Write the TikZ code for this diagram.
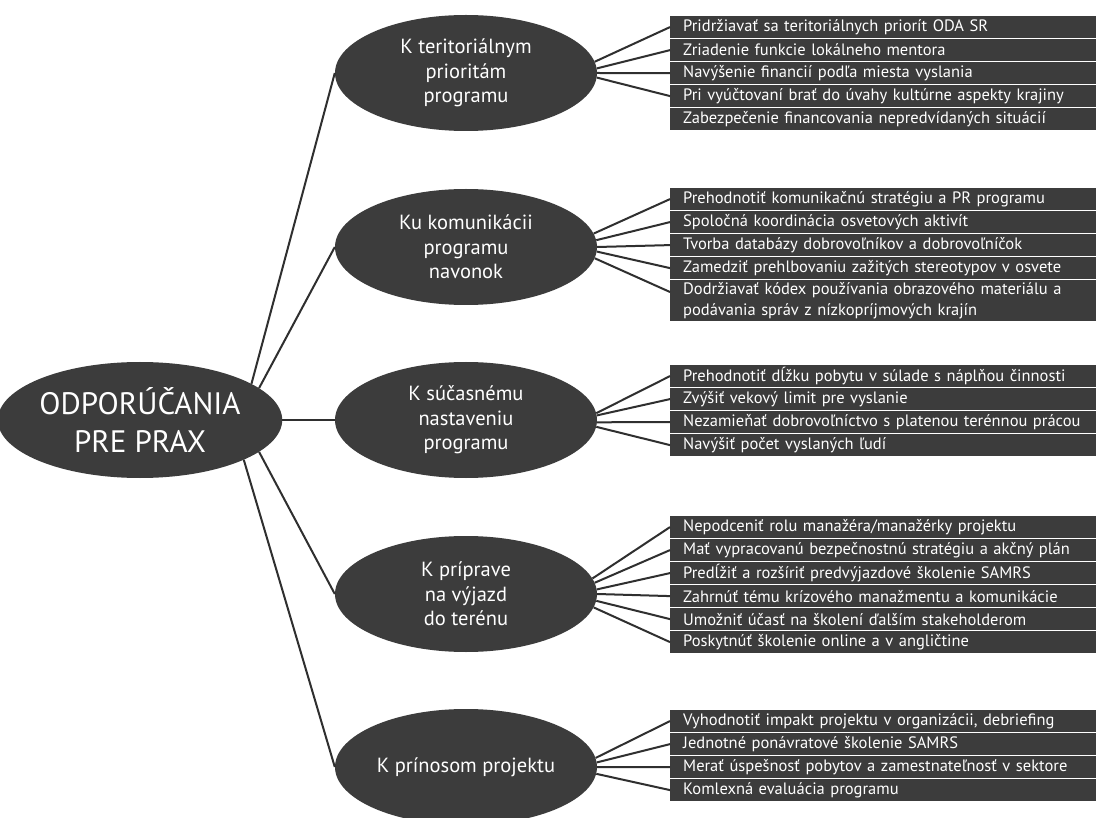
\documentclass[tikz,border=0pt]{standalone}
\usepackage{fontspec}
\setmainfont{PT Sans}
\usetikzlibrary{shapes.geometric}
\definecolor{dk}{HTML}{3C3C3C}
\definecolor{ln}{HTML}{2F2F2F}
\begin{document}
\begin{tikzpicture}[x=1pt,y=-1pt,
  oval/.style={ellipse, fill=dk, text=white, minimum width=262pt, minimum height=116pt, inner sep=0pt, align=center, font=\fontsize{20.5}{24.5}\selectfont},
  mainoval/.style={oval, font=\fontsize{31}{38}\selectfont},
  item/.style={rectangle, fill=dk, text=white, anchor=north west, minimum width=426pt, minimum height=21.8pt, inner xsep=13pt, inner ysep=0pt, text width=400pt, align=left, font=\fontsize{16.5}{20.5}\selectfont},
  conn/.style={draw=ln, line width=2pt}]
\path[use as bounding box] (0,0) rectangle (1096,818);
\clip (0,0) rectangle (1096,818);
\fill[white] (0,0) rectangle (1096,818);

\node[mainoval] (m) at (140,420) {ODPORÚČANIA\\PRE PRAX};
\node[oval] (e1) at (466,73) {K teritoriálnym\\prioritám\\programu};
\node[oval] (e2) at (466,247) {Ku komunikácii\\programu\\navonok};
\node[oval] (e3) at (466,420) {K súčasnému\\nastaveniu\\programu};
\node[oval] (e4) at (466,594) {K príprave\\na výjazd\\do terénu};
\node[oval] (e5) at (466,767) {K prínosom projektu};

\draw[conn] (m.18) -- (e1.west);
\draw[conn] (m.15) -- (e2.west);
\draw[conn] (m.east) -- (e3.west);
\draw[conn] (m.-15) -- (e4.west);
\draw[conn] (m.-21) -- (e5.west);

% group 1
\node[item] (b11) at (670,16) {Pridržiavať sa teritoriálnych priorít ODA SR};
\node[item] (b12) at (670,39) {Zriadenie funkcie lokálneho mentora};
\node[item] (b13) at (670,62) {Navýšenie financií podľa miesta vyslania};
\node[item] (b14) at (670,85) {Pri vyúčtovaní brať do úvahy kultúrne aspekty krajiny};
\node[item] (b15) at (670,108) {Zabezpečenie financovania nepredvídaných situácií};
\draw[conn] (e1.5) -- (b11.west);
\draw[conn] (e1.2.5) -- (b12.west);
\draw[conn] (e1.0) -- (b13.west);
\draw[conn] (e1.-2.5) -- (b14.west);

% group 2
\node[item] (b21) at (670,188) {Prehodnotiť komunikačnú stratégiu a PR programu};
\node[item] (b22) at (670,211) {Spoločná koordinácia osvetových aktivít};
\node[item] (b23) at (670,234) {Tvorba databázy dobrovoľníkov a dobrovoľníčok};
\node[item] (b24) at (670,257) {Zamedziť prehlbovaniu zažitých stereotypov v osvete};
\node[item, minimum height=41pt] (b25) at (670,280) {Dodržiavať kódex používania obrazového materiálu a\\podávania správ z nízkopríjmových krajín};
\draw[conn] (e2.6.5) -- (b21.west);
\draw[conn] (e2.3.5) -- (b22.west);
\draw[conn] (e2.0) -- (b23.west);
\draw[conn] (e2.-2) -- (b24.west);
\draw[conn] (e2.-5.5) -- ([yshift=-12pt]b25.north west);

% group 3
\node[item] (b31) at (670,365) {Prehodnotiť dĺžku pobytu v súlade s náplňou činnosti};
\node[item] (b32) at (670,388) {Zvýšiť vekový limit pre vyslanie};
\node[item] (b33) at (670,411) {Nezamieňať dobrovoľníctvo s platenou terénnou prácou};
\node[item] (b34) at (670,434) {Navýšiť počet vyslaných ľudí};
\draw[conn] (e3.3.5) -- (b31.west);
\draw[conn] (e3.2) -- (b32.west);
\draw[conn] (e3.-1) -- (b33.west);
\draw[conn] (e3.-3.5) -- (b34.west);

% group 4
\node[item] (b41) at (670,516) {Nepodceniť rolu manažéra/manažérky projektu};
\node[item] (b42) at (670,539) {Mať vypracovanú bezpečnostnú stratégiu a akčný plán};
\node[item] (b43) at (670,562) {Predĺžiť a rozšíriť predvýjazdové školenie SAMRS};
\node[item] (b44) at (670,585) {Zahrnúť tému krízového manažmentu a komunikácie};
\node[item] (b45) at (670,608) {Umožniť účasť na školení ďalším stakeholderom};
\node[item] (b46) at (670,631) {Poskytnúť školenie online a v angličtine};
\draw[conn] (e4.7.5) -- (b41.west);
\draw[conn] (e4.5) -- (b42.west);
\draw[conn] (e4.2.5) -- (b43.west);
\draw[conn] (e4.-0.5) -- (b44.west);
\draw[conn] (e4.-3.5) -- (b45.west);
\draw[conn] (e4.-6.5) -- (b46.west);

% group 5
\node[item] (b51) at (670,710) {Vyhodnotiť impakt projektu v organizácii, debriefing};
\node[item] (b52) at (670,733) {Jednotné ponávratové školenie SAMRS};
\node[item] (b53) at (670,756) {Merať úspešnosť pobytov a zamestnateľnosť v sektore};
\node[item] (b54) at (670,779) {Komlexná evaluácia programu};
\draw[conn] (e5.4.5) -- (b51.west);
\draw[conn] (e5.2.5) -- (b52.west);
\draw[conn] (e5.0) -- (b53.west);
\draw[conn] (e5.-3.5) -- (b54.west);
\end{tikzpicture}
\end{document}
